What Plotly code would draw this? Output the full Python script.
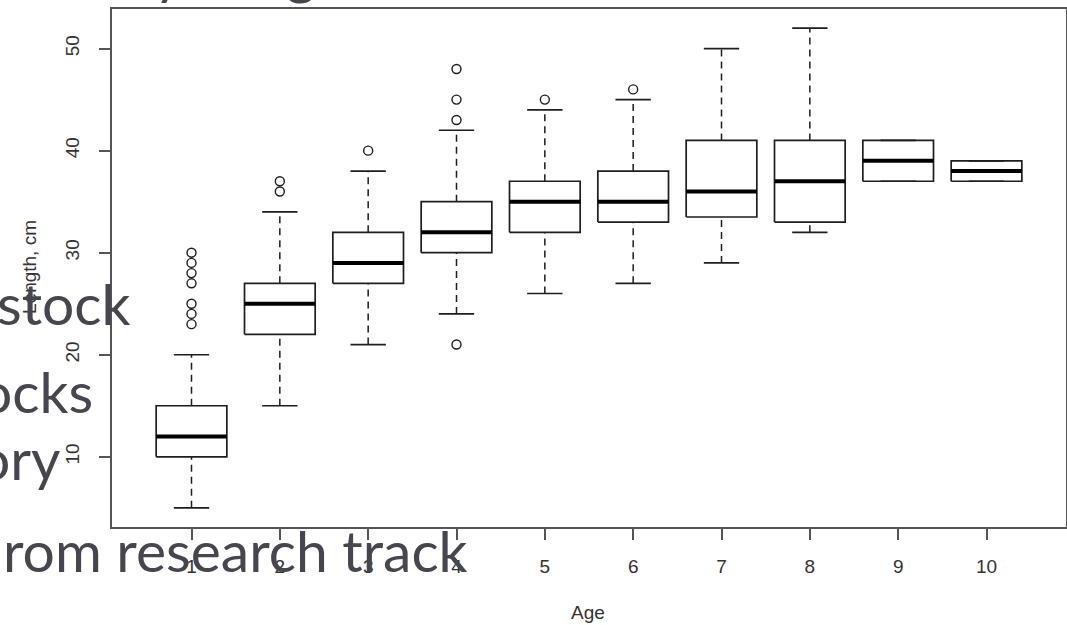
import plotly.graph_objects as go

# ---- data ----
ages = [1, 2, 3, 4, 5, 6, 7, 8, 9, 10]
q1 = [10, 22, 27, 30, 32, 33, 33.5, 33, 37, 37]
median = [12, 25, 29, 32, 35, 35, 36, 37, 39, 38]
q3 = [15, 27, 32, 35, 37, 38, 41, 41, 41, 39]
whisk_lo = [5, 15, 21, 24, 26, 27, 29, 32, 37, 37]
whisk_hi = [20, 34, 38, 42, 44, 45, 50, 52, 41, 39]
out_age = [1, 1, 1, 1, 1, 1, 1, 2, 2, 3, 4, 4, 4, 4, 5, 6]
out_len = [23, 24, 25, 27, 28, 29, 30, 36, 37, 40, 21, 43, 45, 48, 45, 46]
x_ticks = [1, 2, 3, 4, 5, 6, 7, 8, 9, 10]
y_ticks = [10, 20, 30, 40, 50]

BOXW = 0.4   # half box width (R boxwex 0.8)
CAPW = 0.2   # half staple width

# ---- build traces ----
bx, by = [], []
mx, my = [], []
wx, wy = [], []
cx, cy = [], []
for a, lo, b1, m, b3, hi in zip(ages, whisk_lo, q1, median, q3, whisk_hi):
    bx += [a - BOXW, a + BOXW, a + BOXW, a - BOXW, a - BOXW, None]
    by += [b1, b1, b3, b3, b1, None]
    mx += [a - BOXW, a + BOXW, None]
    my += [m, m, None]
    if hi > b3:
        wx += [a, a, None]
        wy += [b3, hi, None]
    if lo < b1:
        wx += [a, a, None]
        wy += [lo, b1, None]
    cx += [a - CAPW, a + CAPW, None, a - CAPW, a + CAPW, None]
    cy += [hi, hi, None, lo, lo, None]

LC = "#1e1e1e"
fig = go.Figure()
fig.add_trace(go.Scatter(x=wx, y=wy, mode="lines",
                         line=dict(color=LC, width=1.5, dash="7px,5px"),
                         hoverinfo="skip", showlegend=False))
fig.add_trace(go.Scatter(x=cx, y=cy, mode="lines",
                         line=dict(color=LC, width=1.7),
                         hoverinfo="skip", showlegend=False))
fig.add_trace(go.Scatter(x=bx, y=by, mode="lines",
                         line=dict(color=LC, width=1.7),
                         hoverinfo="skip", showlegend=False))
fig.add_trace(go.Scatter(x=mx, y=my, mode="lines",
                         line=dict(color="#000000", width=4),
                         hoverinfo="skip", showlegend=False))
fig.add_trace(go.Scatter(x=out_age, y=out_len, mode="markers",
                         marker=dict(symbol="circle-open", size=9,
                                     color=LC, line=dict(width=1.4)),
                         hoverinfo="skip", showlegend=False))

# ---- layout geometry (pixels) ----
W, H = 1067, 625
L, R, T, B = 112, 1066, 9, 527


def px_x(p):
    return (p - L) / (R - L)


def px_y(p):
    return (B - p) / (B - T)


AX = dict(showgrid=False, zeroline=False, showline=True, mirror=True,
          linecolor="#555555", linewidth=1.5, ticks="outside", ticklen=11,
          tickwidth=1.5, tickcolor="#555555",
          tickfont=dict(family="Liberation Sans, Arial", size=19, color="#333333"))

fig.update_layout(
    width=W, height=H,
    margin=dict(l=L, r=W - R, t=T, b=H - B, autoexpand=False),
    paper_bgcolor="white", plot_bgcolor="white",
    xaxis=dict(range=[0.1, 10.9], tickvals=x_ticks,
               ticktext=[str(v) for v in x_ticks], ticklabelstandoff=10, **AX),
    yaxis=dict(range=[3.12, 53.88], tickvals=y_ticks,
               ticktext=[str(v) for v in y_ticks], tickangle=-90,
               ticklabelstandoff=13, **AX),
)

TF = dict(family="Liberation Sans, Arial", size=19, color="#333333")
# axis titles
fig.add_annotation(text="Age", xref="paper", yref="paper", x=px_x(588), y=px_y(612),
                   xanchor="center", yanchor="middle", showarrow=False, font=TF)
fig.add_annotation(text="Length, cm", xref="paper", yref="paper", x=px_x(29), y=px_y(267),
                   xanchor="center", yanchor="middle", textangle=-90,
                   showarrow=False, font=TF)

# slide text overlapping the chart (cut off at the image edges)
SF = dict(family="Lato, Gill Sans, sans-serif", size=57, color="#46464f")
slide = [("stock", 133, 323), ("ocks", 95, 411), ("ory", 62, 478),
         ("rom research track", 470, 570), ("y", 185, -9), ("g", 318, -9)]
for txt, xr, base in slide:
    fig.add_annotation(text=txt, xref="paper", yref="paper",
                       x=px_x(xr), y=px_y(base - 20), xanchor="right", yanchor="middle",
                       showarrow=False, font=SF)

fig.write_html("out.html")
